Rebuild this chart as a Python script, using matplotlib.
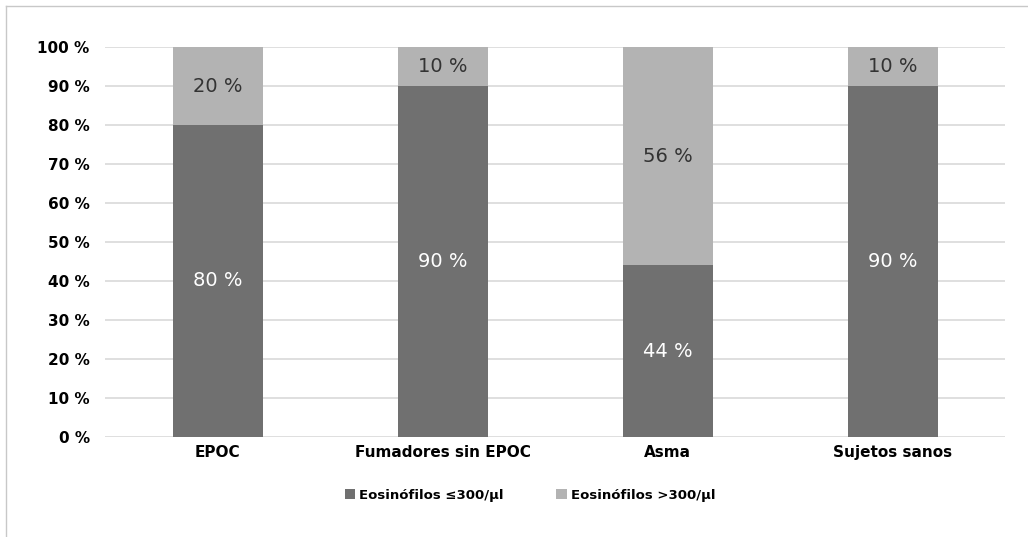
import matplotlib
matplotlib.use("Agg")
import matplotlib.pyplot as plt
from matplotlib.lines import Line2D
import numpy as np

categories = ["EPOC", "Fumadores sin EPOC", "Asma", "Sujetos sanos"]
low_eos = [80, 90, 44, 90]    # Eosinófilos ≤300/µl
high_eos = [20, 10, 56, 10]   # Eosinófilos >300/µl
series_names = ["Eosinófilos ≤300/µl", "Eosinófilos >300/µl"]

C_DARK = "#707070"
C_LIGHT = "#b3b3b3"
C_GRID = "#d9d9d9"

W, H = 1028, 537
fig = plt.figure(figsize=(W / 100, H / 100), dpi=100)
fig.patch.set_facecolor("white")
# outer frame: only left and top edges are visible in the source
fig.lines.append(Line2D([5.5 / W, 5.5 / W], [0, 1 - 5.5 / H], transform=fig.transFigure,
                        color="#c8c8c8", lw=1.0))
fig.lines.append(Line2D([5.5 / W, 1], [1 - 5.5 / H, 1 - 5.5 / H], transform=fig.transFigure,
                        color="#c8c8c8", lw=1.0))

ax = fig.add_axes([105 / W, 1 - 437 / H, 900 / W, 390 / H])
x = np.arange(len(categories))
b1 = ax.bar(x, low_eos, width=0.4, color=C_DARK, zorder=3, label=series_names[0])
b2 = ax.bar(x, high_eos, width=0.4, bottom=low_eos, color=C_LIGHT, zorder=3,
            label=series_names[1])

for i in range(len(categories)):
    ax.text(x[i], low_eos[i] / 2, f"{low_eos[i]} %", ha="center", va="center",
            fontsize=14, color="white", zorder=4)
    ax.text(x[i], low_eos[i] + high_eos[i] / 2, f"{high_eos[i]} %", ha="center",
            va="center", fontsize=14, color="#333333", zorder=4)

ax.set_xlim(-0.5, len(categories) - 0.5)
ax.set_ylim(0, 100)
ax.set_yticks(range(0, 101, 10))
ax.set_yticklabels([f"{v} %" for v in range(0, 101, 10)], fontsize=11,
                   fontweight="bold")
ax.set_xticks(x)
ax.set_xticklabels(categories, fontsize=11, fontweight="bold")
ax.grid(axis="y", color=C_GRID, lw=1.2, zorder=0)
for s in ax.spines.values():
    s.set_visible(False)
ax.tick_params(axis="both", length=0)
ax.tick_params(axis="y", pad=11)
ax.tick_params(axis="x", pad=6)

fig.legend(handles=[b1, b2], loc="center", bbox_to_anchor=(530 / W, 1 - 495 / H),
           ncol=2, frameon=False, handlelength=0.8, handleheight=0.8,
           handletextpad=0.3, columnspacing=4.0,
           prop={"weight": "bold", "size": 9.5})

fig.savefig("out.png", dpi=100, facecolor="white")
